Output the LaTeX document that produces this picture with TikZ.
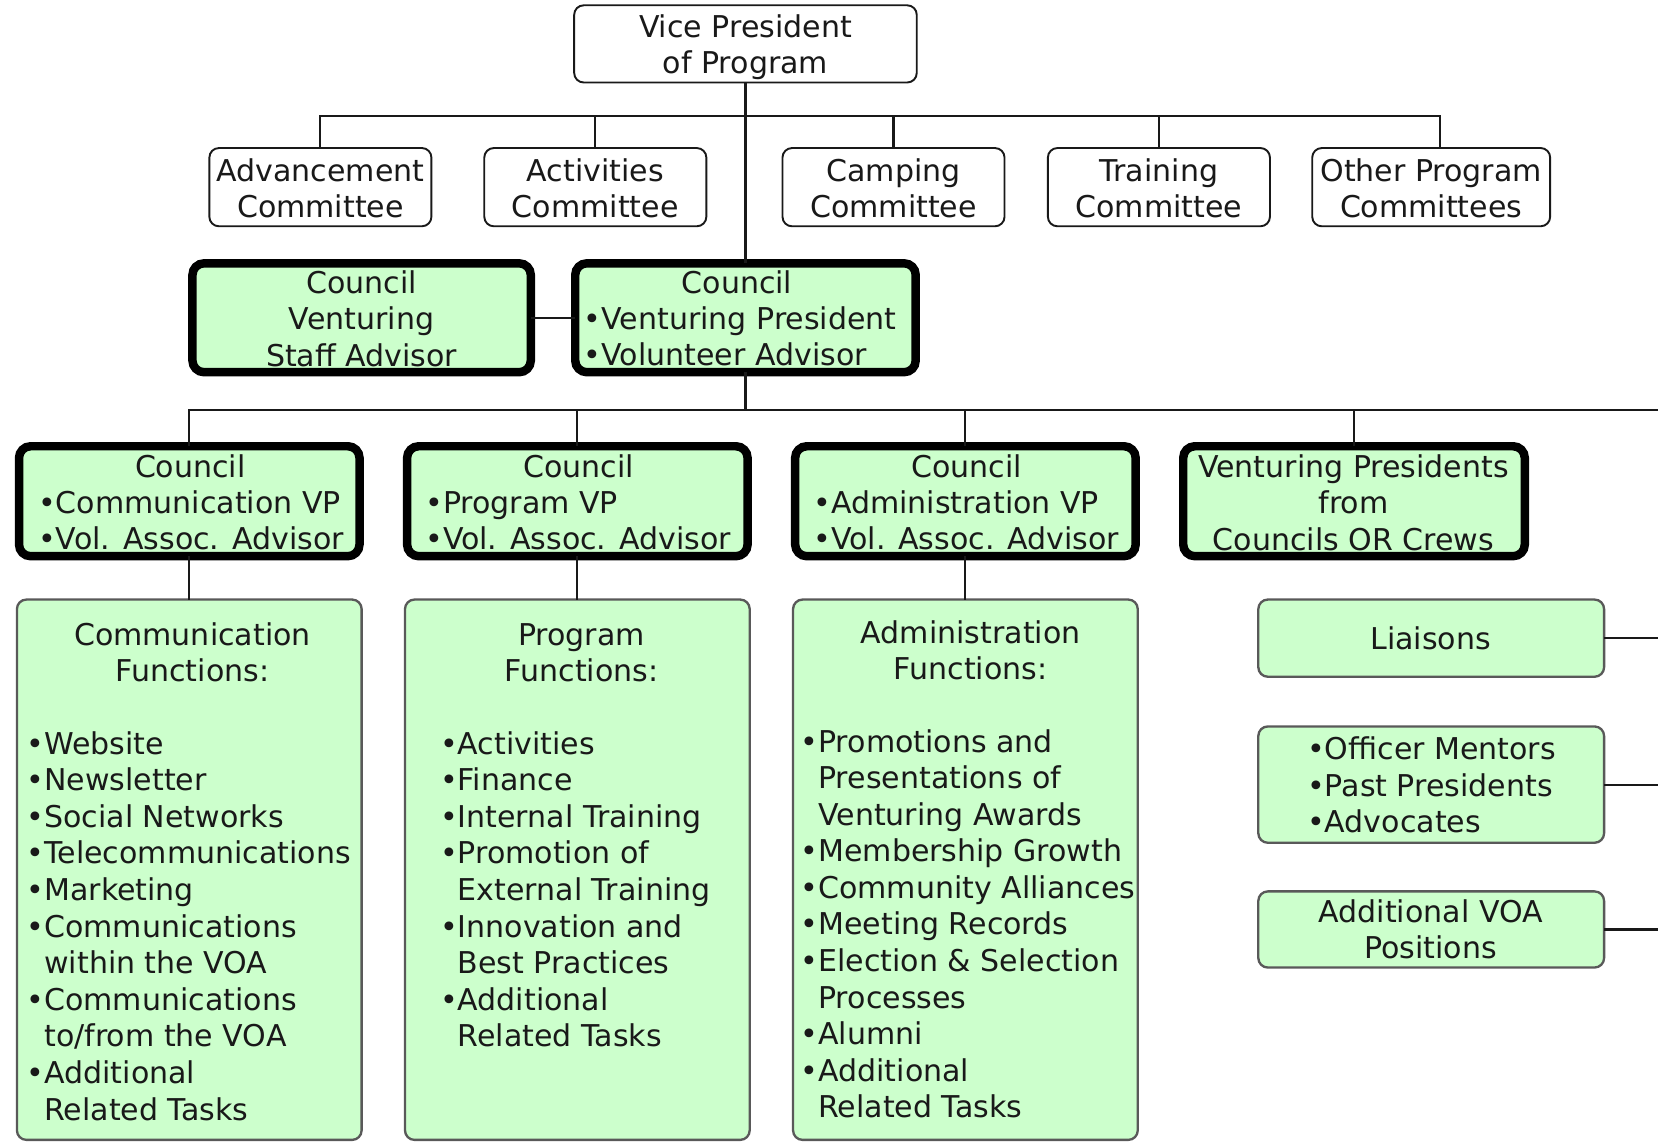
\documentclass[tikz,border=0pt]{standalone}
\usepackage{fontspec}
\setmainfont{DejaVu Sans}
\definecolor{vgreen}{RGB}{204,255,204}
\definecolor{ink}{RGB}{25,25,25}
\newcommand{\firstln}{\rule{0pt}{22pt}}
\newcommand{\ind}{\hphantom{•}}
\begin{document}
\begin{tikzpicture}[x=1pt,y=-1pt,
  every node/.style={font=\fontsize{28.4}{34.6}\selectfont, text=ink},
  thinbox/.style={draw=ink, line width=1.8pt, rounded corners=9pt, fill=white, anchor=north west, inner sep=0, outer sep=0},
  thickbox/.style={draw=black, line width=8pt, rounded corners=11pt, fill=vgreen, anchor=north west, inner sep=0, outer sep=0},
  funcbox/.style={draw=black!65, line width=2.2pt, rounded corners=9pt, fill=vgreen, anchor=north west, inner sep=0, outer sep=0},
  txt/.style={inner sep=0, anchor=north, align=center},
  ltxt/.style={inner sep=0, anchor=north west, align=left},
  conn/.style={draw=ink, line width=2pt}]
\useasboundingbox (0,0) rectangle (1568,1080);
% boxes
\node[thinbox, minimum width=324pt, minimum height=73pt] (vp) at (543,5) {};
\node[thinbox, minimum width=210pt, minimum height=74pt] (adv) at (198,140) {};
\node[thinbox, minimum width=210pt, minimum height=74pt] (act) at (458,140) {};
\node[thinbox, minimum width=210pt, minimum height=74pt] (camp) at (740,140) {};
\node[thinbox, minimum width=210pt, minimum height=74pt] (train) at (991,140) {};
\node[thinbox, minimum width=225pt, minimum height=74pt] (other) at (1241,140) {};
\node[thickbox, minimum width=320pt, minimum height=103pt] (staff) at (182,249) {};
\node[thickbox, minimum width=322pt, minimum height=103pt] (cvp) at (544,249) {};
\node[thickbox, minimum width=322pt, minimum height=104pt] (comm) at (18,422) {};
\node[thickbox, minimum width=322pt, minimum height=104pt] (prog) at (385,422) {};
\node[thickbox, minimum width=322pt, minimum height=104pt] (admin) at (752,422) {};
\node[thickbox, minimum width=323pt, minimum height=104pt] (vpc) at (1119,422) {};
\node[funcbox, minimum width=326pt, minimum height=511pt] (cfun) at (16,567) {};
\node[funcbox, minimum width=326pt, minimum height=511pt] (pfun) at (383,567) {};
\node[funcbox, minimum width=326pt, minimum height=511pt] (afun) at (750,567) {};
\node[funcbox, minimum width=327pt, minimum height=73pt] (liai) at (1190,567) {};
\node[funcbox, minimum width=327pt, minimum height=110pt] (offi) at (1190,687) {};
\node[funcbox, minimum width=327pt, minimum height=72pt] (voa) at (1190,843) {};
% connectors
\coordinate (bus1) at (705,110);
\coordinate (bus2) at (705,388);
\coordinate (redge) at (1568,388);
\coordinate (otop) at ([xshift=8.5pt]other.north);
\draw[conn] (vp.south) -- (vp.south |- cvp.north);
\draw[conn] (adv.north) |- (bus1) -| (otop);
\draw[conn] (act.north) -- (act.north |- bus1);
\draw[conn] (camp.north) -- (camp.north |- bus1);
\draw[conn] (train.north) -- (train.north |- bus1);
\draw[conn] (staff.east) -- (staff.east -| cvp.west);
\draw[conn] (cvp.south) -- (cvp.south |- bus2);
\draw[conn] (comm.north) |- (redge);
\draw[conn] (prog.north) -- (prog.north |- bus2);
\draw[conn] (admin.north) -- (admin.north |- bus2);
\draw[conn] (vpc.north) -- (vpc.north |- bus2);
\draw[conn] (comm.south) -- (comm.south |- cfun.north);
\draw[conn] (prog.south) -- (prog.south |- pfun.north);
\draw[conn] (admin.south) -- (admin.south |- afun.north);
\draw[conn] (liai.east) -- (liai.east -| redge);
\draw[conn] (offi.east) -- (offi.east -| redge);
\draw[conn] (voa.east) -- (voa.east -| redge);
% texts
\node[txt] (tvp) at (705,13) {\firstln Vice President\\of Program};
\node[txt] (tadv) at (303,149) {\firstln Advancement\\Committee};
\node[txt] (tact) at (563,149) {\firstln Activities\\Committee};
\node[txt] (tcamp) at (845,149) {\firstln Camping\\Committee};
\node[txt] (ttrain) at (1096,149) {\firstln Training\\Committee};
\node[txt] (tother) at (1353.5,149) {\firstln Other Program\\Committees};
\node[txt] (tstaff) at (342,255) {\firstln Council\\Venturing\\Staff Advisor};
\node[txt] (tcvp) at (697,255) {\firstln Council};
\node[ltxt] (tcvpb) at (552,289) {\firstln •Venturing President\\•Volunteer Advisor};
\node[txt] (tcomm) at (180,429) {\firstln Council};
\node[ltxt] (tcommb) at (36,463) {\firstln •Communication VP\\•Vol. Assoc. Advisor};
\node[txt] (tprog) at (547,429) {\firstln Council};
\node[ltxt] (tprogb) at (402,463) {\firstln •Program VP\\•Vol. Assoc. Advisor};
\node[txt] (tadmin) at (914,429) {\firstln Council};
\node[ltxt] (tadminb) at (769,463) {\firstln •Administration VP\\•Vol. Assoc. Advisor};
\node[txt] (tvpc) at (1280,429) {\firstln Venturing Presidents\\from\\Councils OR Crews};
\node[txt] (tcfun) at (182,588) {\firstln Communication\\Functions:};
\node[ltxt] (tcfunb) at (25,691) {\firstln •Website\\•Newsletter\\•Social Networks\\•Telecommunications\\•Marketing\\•Communications\\\ind within the VOA\\•Communications\\\ind to/from the VOA\\•Additional\\\ind Related Tasks};
\node[txt] (tpfun) at (550,588) {\firstln Program\\Functions:};
\node[ltxt] (tpfunb) at (416,691) {\firstln •Activities\\•Finance\\•Internal Training\\•Promotion of\\\ind External Training\\•Innovation and\\\ind Best Practices\\•Additional\\\ind Related Tasks};
\node[txt] (tafun) at (918,586) {\firstln Administration\\Functions:};
\node[ltxt] (tafunb) at (757,689) {\firstln •Promotions and\\\ind Presentations of\\\ind Venturing Awards\\•Membership Growth\\•Community Alliances\\•Meeting Records\\•Election \& Selection\\\ind Processes\\•Alumni\\•Additional\\\ind Related Tasks};
\node[txt] (tliai) at (1353,592) {\firstln Liaisons};
\node[ltxt] (toffi) at (1236,696) {\firstln •Officer Mentors\\•Past Presidents\\•Advocates};
\node[txt] (tvoa) at (1353,850) {\firstln Additional VOA\\Positions};
\end{tikzpicture}
\end{document}
